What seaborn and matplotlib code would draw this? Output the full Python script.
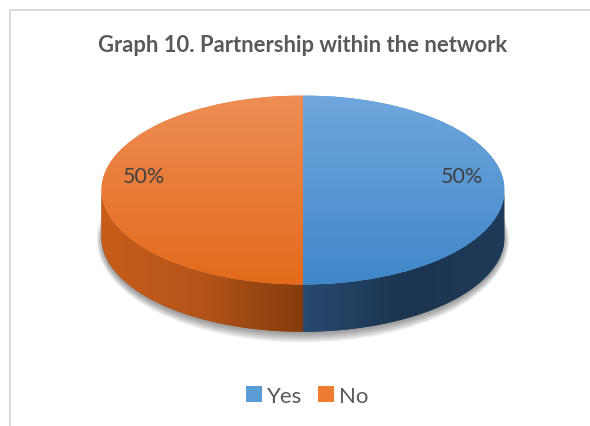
import numpy as np
import matplotlib
matplotlib.use("Agg")
import matplotlib.pyplot as plt
import seaborn as sns
from matplotlib.colors import LinearSegmentedColormap
from matplotlib.patches import Polygon, Ellipse
from matplotlib.lines import Line2D

# ---- data ----
categories = ["Yes", "No"]
values = [50, 50]
title = "Graph 10. Partnership within the network"

# ---- style ----
sns.set_theme(style="white")
plt.rcParams['font.family'] = ['Lato', 'DejaVu Sans']

palette = sns.color_palette(["#5B9BD5", "#ED7D31"])
top_grad = [["#3F87C9", "#70A6DD"], ["#E36A1B", "#EE8D54"]]          # bottom -> top
side_grad = [[(0.0, "#2A4C73"), (0.5, "#284A70"), (0.75, "#1C3550"), (1.0, "#1F3A58")],
             [(0.0, "#C85D1B"), (0.25, "#B4541A"), (0.5, "#843C0C"), (1.0, "#843C0C")]]
text_col = "#595959"

W, H = 590, 427
fig = plt.figure(figsize=(W / 100, H / 100), dpi=100)
fig.patch.set_facecolor("white")

# pie geometry (pixels)
cx, cy = 303, 191
rx, ry = 201.5, 94.5
depth = 0.5
xl, xr = -1.05, 1.05
yb, yt = -1.75, 1.05
left_px = cx + xl * rx
ax = fig.add_axes([left_px / W, 1 - (cy - yb * ry) / H,
                   (xr - xl) * rx / W, (yt - yb) * ry / H])

wedges, texts, autotexts = ax.pie(
    values, colors=palette, startangle=90, counterclock=False,
    autopct=lambda p: f"{p:.0f}%", pctdistance=0.79, radius=1,
    wedgeprops=dict(linewidth=0),
    textprops=dict(fontsize=15.5, color="#404040"))
ax.set_aspect("auto")
ax.set_xlim(xl, xr)
ax.set_ylim(yb, yt)
ax.axis("off")

# shadow under the pie
for k in range(6):
    ax.add_patch(Ellipse((0, -depth - 0.025), 2 + 0.009 * k, 2 + 0.035 * k,
                         facecolor="black", alpha=0.07, lw=0, zorder=0))

# top face gradients
grad_v = np.linspace(0, 1, 256).reshape(-1, 1)
for i, w in enumerate(wedges):
    w.set_zorder(3)
    cmap = LinearSegmentedColormap.from_list(f"t{i}", top_grad[i])
    im = ax.imshow(grad_v, cmap=cmap, extent=(-1, 1, -1, 1), origin="lower",
                   aspect="auto", zorder=3.5)
    im.set_clip_path(w)

# side walls
grad_h = np.linspace(0, 1, 256).reshape(1, -1)
for i, w in enumerate(wedges):
    t1, t2 = w.theta1, w.theta2
    for shift in (-360, 0, 360):
        lo = max(t1 + shift, 180)
        hi = min(t2 + shift, 360)
        if hi > lo:
            t = np.radians(np.linspace(lo, hi, 200))
            xs = np.cos(t)
            ys = np.sin(t)
            pts = np.concatenate([np.column_stack([xs, ys]),
                                  np.column_stack([xs[::-1], ys[::-1] - depth])])
            poly = Polygon(pts, closed=True, facecolor=side_grad[i][2][1],
                           lw=0, zorder=2)
            ax.add_patch(poly)
            cmap = LinearSegmentedColormap.from_list(f"s{i}", side_grad[i])
            im = ax.imshow(grad_h, cmap=cmap, extent=(-1, 1, -1 - depth, 0),
                           aspect="auto", zorder=2.5)
            im.set_clip_path(poly)
ax.set_xlim(xl, xr)
ax.set_ylim(yb, yt)

for t in autotexts:
    t.set_y(0.15)
    t.set_zorder(5)

# title
fig.text(303 / W, 1 - 46 / H, title, ha="center", va="center",
         fontsize=15.8, fontweight="bold", color=text_col)

# legend
fig.legend(handles=list(wedges), labels=categories, loc="center",
           bbox_to_anchor=(307 / W, 1 - 397 / H), ncol=2, frameon=False,
           handlelength=0.75, handleheight=0.75, handletextpad=0.2,
           columnspacing=0.7, fontsize=16, labelcolor=text_col)

# chart area border
fig.add_artist(Line2D([9.5 / W, 9.5 / W], [0, 1 - 11 / H], transform=fig.transFigure,
                      color="#D9D9D9", lw=1.3))
fig.add_artist(Line2D([9.5 / W, 1], [1 - 11 / H, 1 - 11 / H], transform=fig.transFigure,
                      color="#D9D9D9", lw=1.3))

fig.savefig("out.png", dpi=100)
